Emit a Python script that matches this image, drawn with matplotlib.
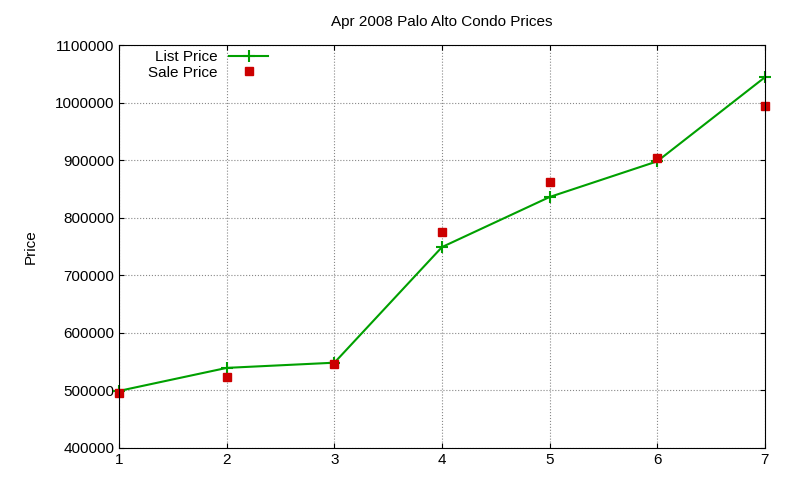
import matplotlib
matplotlib.use('Agg')
import matplotlib.pyplot as plt
from matplotlib.ticker import FuncFormatter

# values
days = [1, 2, 3, 4, 5, 6, 7]
list_price = [499000, 539000, 548000, 749000, 836000, 898000, 1044000]
sale_price = [495000, 524000, 545000, 775000, 862000, 903000, 994000]

plt.rcParams['font.family'] = ['Liberation Sans', 'DejaVu Sans']

fig = plt.figure(figsize=(8, 4.8), dpi=100)
ax = fig.add_axes([0.149, 0.067, 0.807, 0.839])

ax.plot(days, list_price, color='#00a000', lw=1.5, marker='+', ms=8, mew=1.5,
        label='List Price', clip_on=False)
ax.plot(days, sale_price, ls='none', color='#cc0000', marker='s', ms=6,
        label='Sale Price', clip_on=False)

ax.set_xlim(1, 7)
ax.set_ylim(400000, 1100000)
ax.set_xticks(days)
ax.set_yticks(range(400000, 1100001, 100000))
ax.yaxis.set_major_formatter(FuncFormatter(lambda v, p: '%d' % v))
ax.tick_params(direction='in', labelsize=11, top=True, right=True)
ax.grid(True, ls=':', color='#888888', lw=0.8)
ax.set_ylabel('Price', fontsize=11, labelpad=12)
ax.set_title('Apr 2008 Palo Alto Condo Prices', fontsize=11, pad=14)

ax.legend(loc='upper left', markerfirst=False, frameon=False, fontsize=11,
          handlelength=2.5, borderpad=0.1, labelspacing=0.1,
          bbox_to_anchor=(0.03, 1.01))

fig.savefig('out.png')
